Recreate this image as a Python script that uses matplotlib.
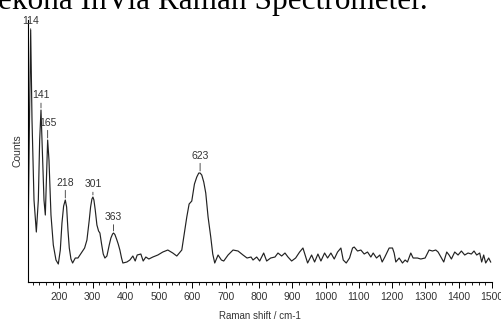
import matplotlib.pyplot as plt
import numpy as np
from matplotlib.ticker import MultipleLocator

# Raman shift (cm-1) and intensity (counts)
shift = [106, 110, 114, 118, 124, 131, 137, 141, 145, 149, 154, 158, 162, 165,
         169, 175, 182, 190, 197, 203, 208, 213, 218, 222, 226, 230, 235, 240,
         248, 256, 264, 276, 283, 290, 294, 298, 301, 304, 308, 313, 318, 322,
         327, 332, 337, 343, 350, 355, 360, 363, 367, 372, 377, 382, 387, 391,
         403, 412, 421, 428, 434, 445, 452, 460, 469, 481, 496, 511, 526, 541,
         553, 568, 583, 590, 598, 606, 613, 619, 623, 628, 634, 640, 647, 655,
         661, 667, 677, 687, 694, 707, 722, 737, 752, 764, 776, 782, 793, 802,
         814, 823, 835, 848, 857, 868, 878, 887, 898, 910, 922, 932, 946, 958,
         967, 977, 986, 997, 1006, 1016, 1026, 1036, 1046, 1053, 1062, 1072, 1081,
         1086, 1096, 1106, 1116, 1126, 1136, 1143, 1153, 1163, 1170, 1178, 1191,
         1201, 1206, 1211, 1221, 1231, 1239, 1246, 1256, 1263, 1276, 1286, 1299,
         1311, 1321, 1331, 1338, 1348, 1355, 1364, 1371, 1378, 1388, 1398, 1408,
         1418, 1428, 1438, 1446, 1454, 1463, 1469, 1475, 1481, 1490, 1496]
counts = [740, 3040, 5040, 3240, 1640, 1000, 1640, 2840, 3440, 2640, 1640, 1340,
          2240, 2840, 2440, 1340, 740, 440, 360, 640, 1180, 1520, 1640, 1500,
          1040, 680, 460, 380, 480, 480, 560, 680, 840, 1240, 1500, 1660, 1700,
          1640, 1440, 1140, 1020, 980, 760, 560, 480, 520, 740, 880, 960, 980,
          950, 860, 760, 640, 480, 380, 400, 440, 520, 420, 540, 560, 420, 500,
          460, 500, 540, 600, 640, 580, 520, 640, 1300, 1560, 1620, 1960, 2100,
          2180, 2180, 2140, 2000, 1780, 1300, 900, 560, 380, 540, 440, 420, 540,
          640, 620, 540, 480, 500, 440, 500, 420, 580, 420, 480, 500, 580, 520,
          580, 500, 420, 480, 600, 680, 380, 540, 400, 560, 420, 580, 480, 580,
          460, 600, 680, 440, 380, 480, 680, 700, 620, 640, 560, 600, 500, 580,
          480, 540, 400, 500, 680, 680, 580, 400, 480, 380, 440, 400, 580, 480,
          480, 460, 480, 640, 620, 640, 600, 480, 400, 600, 540, 460, 600, 540,
          620, 540, 580, 560, 620, 540, 580, 400, 540, 380, 480, 400]

peaks = ["114", "141", "165", "218", "301", "363", "623"]
peak_pos = [114, 145, 165, 218, 301, 363, 623]
label_lift = [3, 7, 9, 9, 5.5, 8, 9]

fig = plt.figure(figsize=(5.02, 3.23), dpi=100)
ax = fig.add_axes([0.0558, 0.1269, 0.9243, 0.811])

ax.plot(shift, counts, color="#222222", lw=0.85)

for lab, pos, lift in zip(peaks, peak_pos, label_lift):
    y = counts[shift.index(pos)]
    ax.annotate(lab, xy=(pos, y), xytext=(0, lift), textcoords="offset points",
                ha="center", va="bottom", fontsize=7.5, family="Liberation Sans",
                color="#333333", annotation_clip=False,
                arrowprops=dict(arrowstyle="-", lw=0.6, color="#333333",
                                shrinkA=0, shrinkB=1.5))

ax.set_xlim(106, 1500)
ax.set_ylim(0, 5240)
ax.xaxis.set_major_locator(MultipleLocator(100))
ax.xaxis.set_minor_locator(MultipleLocator(20))
ax.set_xticks(np.arange(200, 1501, 100))
ax.set_yticks([])
ax.tick_params(axis="x", which="major", length=4, width=0.7, pad=3,
               labelsize=7.5, labelcolor="#333333")
ax.tick_params(axis="x", which="minor", length=2, width=0.6)
for lbl in ax.get_xticklabels():
    lbl.set_family("Liberation Sans")

for s in ["top", "right"]:
    ax.spines[s].set_visible(False)
for s in ["left", "bottom"]:
    ax.spines[s].set_linewidth(0.8)

ax.set_xlabel("Raman shift / cm-1", fontsize=7, family="Liberation Sans",
              color="#333333", labelpad=7)
ax.set_ylabel("Counts", fontsize=7.5, family="Liberation Sans",
              color="#333333", labelpad=4)

# caption fragment from the page above the figure
fig.text(-0.004, 1 - 8.5 / 323, "ekona InVia Raman Spectrometer.",
         family="Liberation Serif", fontsize=22.5, va="baseline", ha="left")

fig.savefig("out.png", dpi=100)
